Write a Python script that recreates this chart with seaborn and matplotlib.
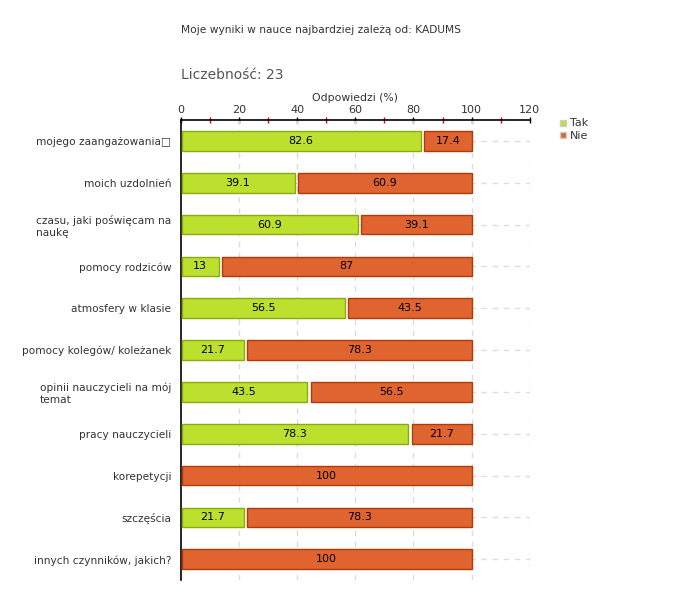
import numpy as np
import matplotlib
matplotlib.use("Agg")
import matplotlib.pyplot as plt
import seaborn as sns
from matplotlib.lines import Line2D

categories = [
    "mojego zaangażowania□",
    "moich uzdolnień",
    "czasu, jaki poświęcam na\nnaukę",
    "pomocy rodziców",
    "atmosfery w klasie",
    "pomocy kolegów/ koleżanek",
    "opinii nauczycieli na mój\ntemat",
    "pracy nauczycieli",
    "korepetycji",
    "szczęścia",
    "innych czynników, jakich?",
]
tak = [82.6, 39.1, 60.9, 13, 56.5, 21.7, 43.5, 78.3, 0, 21.7, 0]
nie = [17.4, 60.9, 39.1, 87, 43.5, 78.3, 56.5, 21.7, 100, 78.3, 100]
series_names = ["Tak", "Nie"]
x_ticks = [0, 20, 40, 60, 80, 100, 120]

green = "#bde02e"
green_edge = "#8aaa10"
orange = "#e06430"
orange_edge = "#b03a08"
text_col = "#333333"

sns.set_style("white")
plt.rcParams["font.family"] = ["DejaVu Sans"]

fig = plt.figure(figsize=(6.8, 6.0), dpi=100)
ax = fig.add_axes([0.266, 0.033, 0.513, 0.767])

y = np.arange(len(categories))
h = 0.47
gap = 1.1

# stacked bars: Tak first, Nie after a small gap
for i in range(len(categories)):
    if tak[i] > 0:
        ax.barh(y[i], tak[i] - 0.4, left=0.4, height=h, color=green,
                edgecolor=green_edge, linewidth=1, zorder=3)
        ax.text(tak[i] / 2, y[i], f"{tak[i]:g}", ha="center", va="center",
                fontsize=8, color="black", zorder=4)
        start = tak[i] + gap
    else:
        start = 0.4
    if nie[i] > 0:
        ax.barh(y[i], tak[i] + nie[i] - start, left=start, height=h, color=orange,
                edgecolor=orange_edge, linewidth=1, zorder=3)
        ax.text((start + tak[i] + nie[i]) / 2, y[i], f"{nie[i]:g}", ha="center",
                va="center", fontsize=8, color="black", zorder=4)

ax.set_xlim(0, 120)
ax.set_ylim(len(categories) - 0.5, -0.5)

# axis on top
ax.xaxis.tick_top()
ax.xaxis.set_label_position("top")
ax.set_xticks(x_ticks)
ax.set_xticks([10, 30, 50, 70, 90, 110], minor=True)
ax.tick_params(axis="x", which="major", direction="inout", length=5, width=1,
               color="black", labelsize=8, labelcolor=text_col, pad=1)
ax.tick_params(axis="x", which="minor", direction="inout", length=4, width=1,
               color="#e00000")
ax.set_xlabel("Odpowiedzi (%)", fontsize=7.8, color=text_col, labelpad=3)

ax.set_yticks(y)
ax.set_yticklabels(categories, fontsize=7.6, color=text_col, multialignment="left")
ax.tick_params(axis="y", direction="out", length=4, width=1, color="black", pad=3)

for s in ["right", "bottom"]:
    ax.spines[s].set_visible(False)
for s in ["top", "left"]:
    ax.spines[s].set_color("black")
    ax.spines[s].set_linewidth(1.2)

# dashed grid
for xv in x_ticks[1:]:
    ax.axvline(xv, color="#dddddd", linestyle=(0, (4, 4)), linewidth=1, zorder=1)
for yv in y:
    ax.axhline(yv, color="#dddddd", linestyle=(0, (4, 4)), linewidth=1, zorder=1)

# titles
fig.text(181 / 680, 1 - 30 / 600, "Moje wyniki w nauce najbardziej zależą od: KADUMS",
         fontsize=7.7, color=text_col, va="center", ha="left")
fig.text(181 / 680, 1 - 75 / 600, "Liczebność: 23",
         fontsize=10, color="#555555", va="center", ha="left")

# legend
handles = [
    Line2D([], [], marker="s", linestyle="none", markersize=5,
           markerfacecolor=green, markeredgecolor="#cccccc"),
    Line2D([], [], marker="s", linestyle="none", markersize=5,
           markerfacecolor=orange, markeredgecolor="#cccccc"),
]
fig.legend(handles, series_names, loc="upper left",
           bbox_to_anchor=(553 / 680, 1 - 114 / 600), frameon=False,
           fontsize=8, labelcolor=text_col, handletextpad=0.1,
           handlelength=1.0, labelspacing=0.2, borderaxespad=0)

fig.savefig("out.png", dpi=100)
